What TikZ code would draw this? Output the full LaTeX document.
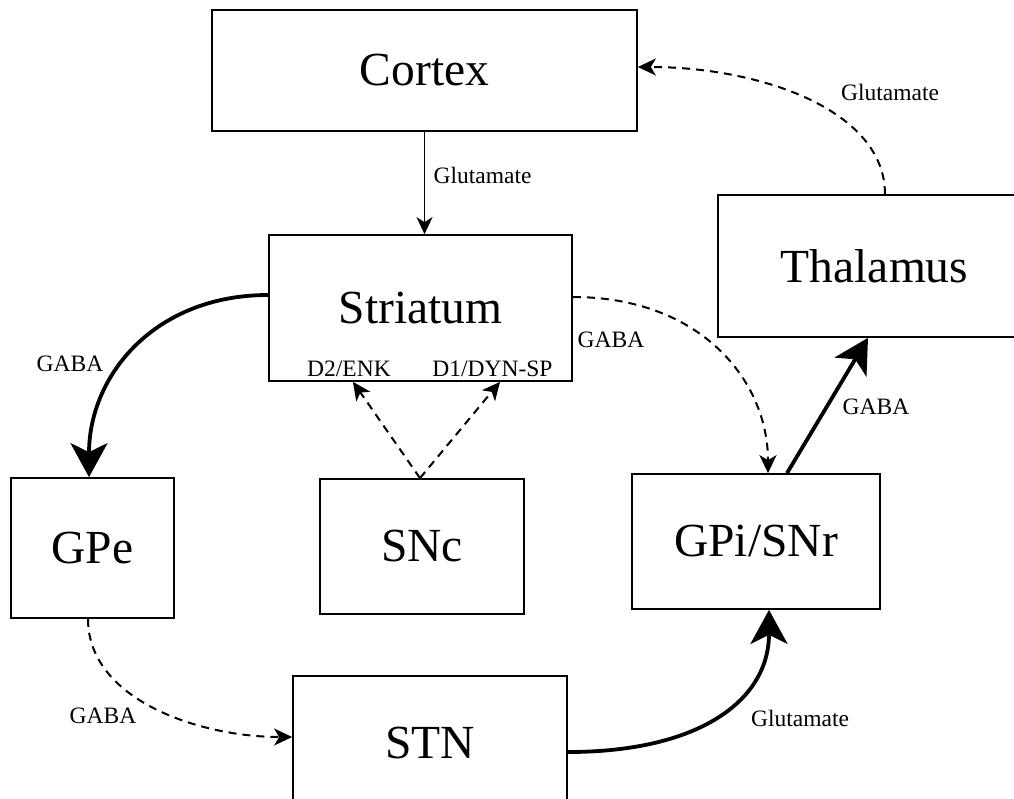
\documentclass[tikz,border=0pt]{standalone}
\usepackage{fontspec}
\setmainfont{Liberation Serif}
\usetikzlibrary{arrows.meta}
\tikzset{
  box/.style={draw, line width=1.7bp, inner sep=0pt, font=\fontsize{47.5bp}{57bp}\selectfont},
  lbl/.style={inner sep=0pt, font=\fontsize{23.5bp}{28bp}\selectfont},
  thinarrow/.style={line width=1.6bp, -{Stealth[length=17bp,width=16bp,inset=5bp]}},
  dasharrow/.style={line width=2bp, dash pattern=on 8bp off 6bp, -{Stealth[length=18bp,width=17bp,inset=5bp]}},
  bigarrow/.style={line width=3.8bp, -{Stealth[length=34bp,width=37bp,inset=9bp]}}
}
\begin{document}
\begin{tikzpicture}[x=1bp,y=-1bp]
\useasboundingbox (0,0) rectangle (1014,799);
\clip (0,0) rectangle (1014,799);
\fill[white] (0,0) rectangle (1014,799);

% boxes
\node[box, minimum width=425bp, minimum height=121bp] (cortex) at (424.5,70.5) {Cortex};
\node[box, minimum width=303bp, minimum height=146bp] (striatum) at (420.5,308) {Striatum};
\node[box, minimum width=313bp, minimum height=142bp] (thalamus) at (874.5,266) {Thalamus};
\node[box, minimum width=163bp, minimum height=140bp] (gpe) at (92.5,548) {GPe};
\node[box, minimum width=204bp, minimum height=135bp] (snc) at (422,546.5) {SNc};
\node[box, minimum width=248bp, minimum height=135bp] (gpi) at (756,541.5) {GPi/SNr};
\node[box, minimum width=274bp, minimum height=134bp] (stn) at (430,743) {STN};

% sub-labels in striatum
\node[lbl] (d2) at (349,369) {D2/ENK};
\node[lbl] (d1) at (492.5,369) {D1/DYN-SP};

% connectors
\draw[thinarrow] (cortex.south) -- (cortex.south |- striatum.north);
\draw[bigarrow] (striatum.west |- 0,295) .. controls (155,295) and (89,375) .. (gpe.north -| 89,0);
\draw[dasharrow] (striatum.east |- 0,297) .. controls (700,297) and (768,380) .. (gpi.north -| 768,0);
\draw[dasharrow] (snc.north -| 420,0) -- (striatum.south -| 353,0);
\draw[dasharrow] (snc.north -| 420,0) -- (striatum.south -| 500,0);
\draw[bigarrow] (gpi.north -| 787,0) -- (thalamus.south -| 868,0);
\draw[dasharrow] (thalamus.north -| 885,0) .. controls (885,110) and (760,67) .. (cortex.east |- 0,67);
\draw[dasharrow] (gpe.south -| 88,0) .. controls (88,700) and (200,737) .. (stn.west |- 0,737);
\draw[bigarrow] (stn.east |- 0,752) .. controls (700,752) and (769,700) .. (gpi.south -| 769,0);

% connector labels
\node[lbl] (l1) at (482.5,175) {Glutamate};
\node[lbl] (l2) at (70,364) {GABA};
\node[lbl] (l3) at (611,340) {GABA};
\node[lbl] (l4) at (876,407) {GABA};
\node[lbl] (l5) at (890,92) {Glutamate};
\node[lbl] (l6) at (103,716) {GABA};
\node[lbl] (l7) at (800,718) {Glutamate};
\end{tikzpicture}
\end{document}
